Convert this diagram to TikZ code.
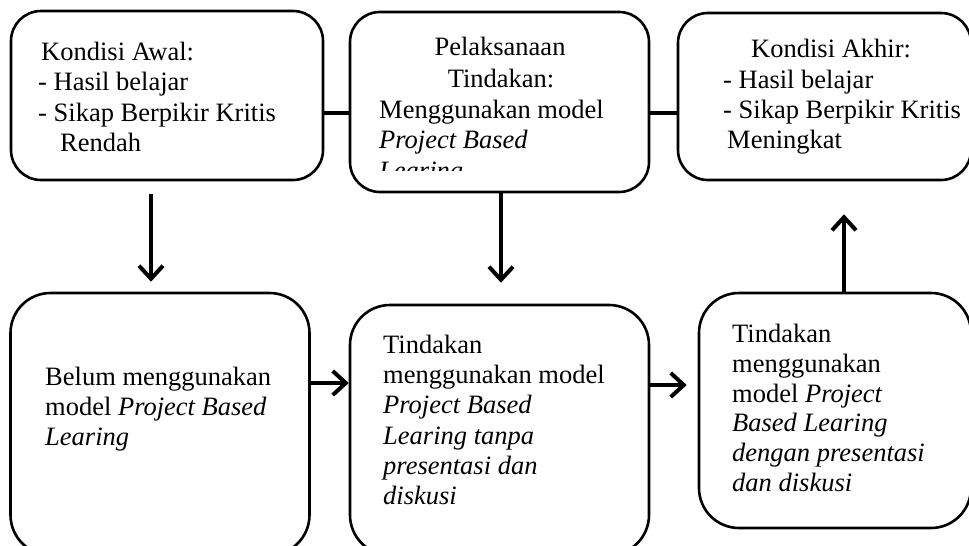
\documentclass[tikz,border=0pt]{standalone}
\usepackage{fontspec}
\setmainfont{Liberation Serif}
\usetikzlibrary{arrows.meta,calc}
\tikzset{
  box/.style={draw=black, line width=2.6pt, rectangle, rounded corners=#1, inner sep=0pt},
  box/.default=30pt,
  conn/.style={line width=3.5pt},
  arr/.style={line width=3.5pt, -{Straight Barb[length=13pt,width=24pt,line width=4pt]}},
  txt/.style={anchor=base west, inner sep=0pt, font=\fontsize{26.5pt}{30.5pt}\selectfont},
  txtc/.style={anchor=base, inner sep=0pt, font=\fontsize{26.5pt}{30.5pt}\selectfont}
}
\begin{document}
\begin{tikzpicture}[x=1pt,y=-1pt]
\useasboundingbox (0,0) rectangle (969,546);
\clip (0,0) rectangle (969,546);
% boxes
\node[box, minimum width=312pt, minimum height=169pt] (tl) at (167,95.5) {};
\node[box, minimum width=299pt, minimum height=180pt] (tm) at (499.5,102) {};
\node[box, minimum width=293pt, minimum height=167pt] (tr) at (824.5,96.5) {};
\node[box=40pt, minimum width=299pt, minimum height=262pt] (bl) at (160,424) {};
\node[box=40pt, minimum width=299pt, minimum height=250pt] (bm) at (499.5,430) {};
\node[box=40pt, minimum width=272pt, minimum height=235pt] (br) at (835,410.5) {};
% texts
\node[txt] (t1a) at (41,60) {Kondisi Awal:};
\node[txt] (t1b) at (38,90) {- Hasil belajar};
\node[txt] (t1c) at (38,121) {- Sikap Berpikir Kritis};
\node[txt] (t1d) at (60,151) {Rendah};
\begin{scope}
\clip (350,12) rectangle (649,170);
\node[txtc] (t2a) at (500,55) {Pelaksanaan};
\node[txtc] (t2b) at (501,87) {Tindakan:};
\node[txt] (t2c) at (379,118) {Menggunakan model};
\node[txt] (t2d) at (379,148) {\itshape Project Based};
\node[txt] (t2e) at (379,179) {\itshape Learing};
\end{scope}
\node[txt] (t3a) at (751,57) {Kondisi Akhir:};
\node[txt] (t3b) at (723,88) {- Hasil belajar};
\node[txt] (t3c) at (723,118) {- Sikap Berpikir Kritis};
\node[txt] (t3d) at (727,148) {Meningkat};
\node[txt] (t4a) at (45,385) {Belum menggunakan};
\node[txt] (t4b) at (45,415) {model \itshape Project Based};
\node[txt] (t4c) at (45,445) {\itshape Learing};
\node[txt] (t5a) at (383,353) {Tindakan};
\node[txt] (t5b) at (383,383) {menggunakan model};
\node[txt] (t5c) at (383,413) {\itshape Project Based};
\node[txt] (t5d) at (383,444) {\itshape Learing tanpa};
\node[txt] (t5e) at (383,474) {\itshape presentasi dan};
\node[txt] (t5f) at (383,504) {\itshape diskusi};
\node[txt] (t6a) at (732,342) {Tindakan};
\node[txt] (t6b) at (732,372) {menggunakan};
\node[txt] (t6c) at (732,402) {model \itshape Project};
\node[txt] (t6d) at (732,431) {\itshape Based Learing};
\node[txt] (t6e) at (732,461) {\itshape dengan presentasi};
\node[txt] (t6f) at (732,491) {\itshape dan diskusi};
% connectors
\draw[conn] (tl.east |- 0,113) -- (tm.west |- 0,113);
\draw[conn] (tm.east |- 0,113) -- (tr.west |- 0,113);
\draw[arr, shorten <=13pt, shorten >=10pt] (tl.south -| 151,0) -- (bl.north -| 151,0);
\draw[arr, shorten >=21pt] (tm.south -| 501,0) -- (bm.north -| 501,0);
\draw[arr] (bl.east |- 0,383) -- (bm.west |- 0,383);
\draw[arr, shorten >=11pt] (bm.east |- 0,385) -- (br.west |- 0,385);
\draw[arr, shorten >=33pt] (br.north -| 844,0) -- (tr.south -| 844,0);
\end{tikzpicture}
\end{document}
